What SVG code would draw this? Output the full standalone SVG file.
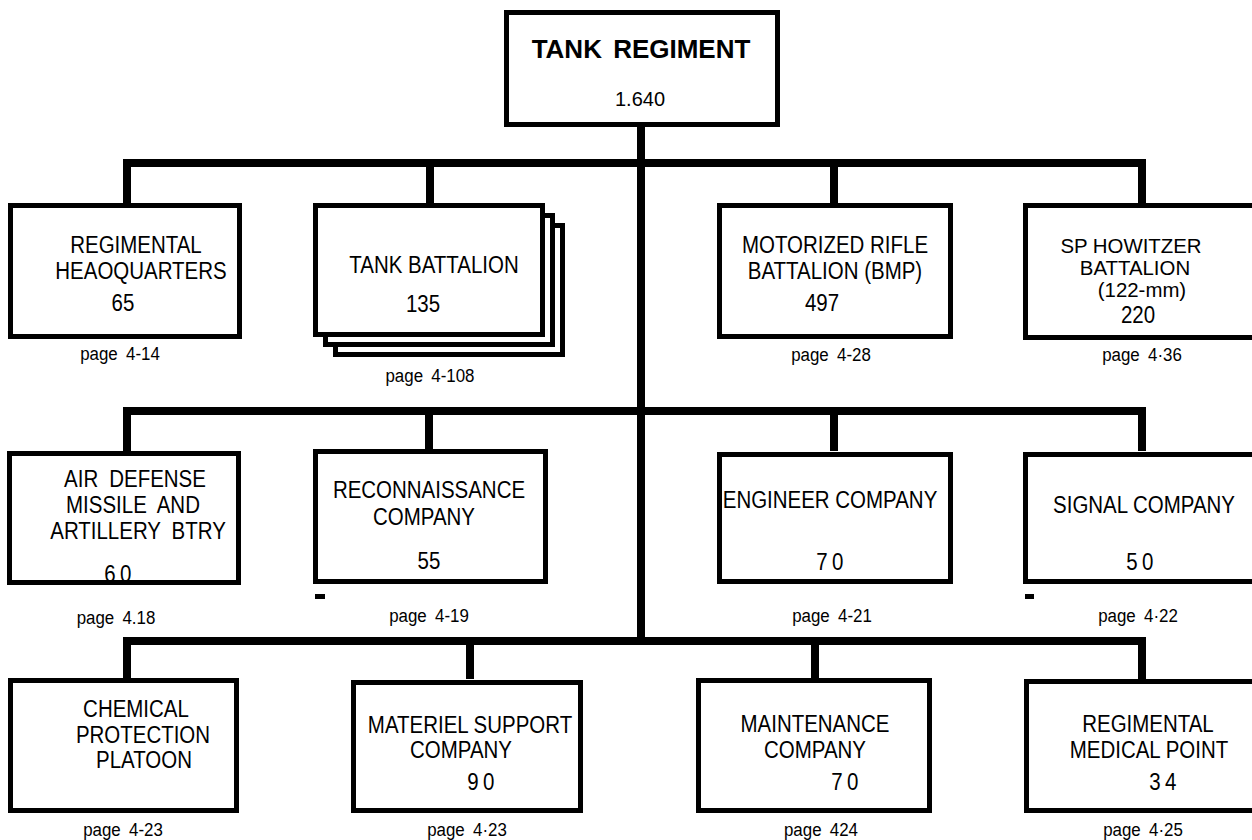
<svg xmlns="http://www.w3.org/2000/svg" width="1252" height="840" viewBox="0 0 1252 840">
<style>
.box{fill:#fff;stroke:#000;stroke-width:5}
.ln{fill:none;stroke:#000;stroke-width:8;stroke-linejoin:miter;stroke-linecap:butt}
text{font-family:"Liberation Sans",Arial,Helvetica,sans-serif;fill:#000;text-anchor:middle}
.t{font-size:23px;transform-box:fill-box;transform-origin:center;transform:scaleX(.89)}
.s{font-size:20px;transform-box:fill-box;transform-origin:center;transform:scaleX(1.02)}
.p{font-size:19px;word-spacing:4px;transform-box:fill-box;transform-origin:center;transform:scaleX(.89)}
.w{word-spacing:6px}
.sp{letter-spacing:5px}
.title{font-size:26px;font-weight:bold;word-spacing:4px}
.num{font-size:20px}
</style>
<rect width="1252" height="840" fill="#fff"/>
<g id="connectors">
<path class="ln" d="M641 125V645"/>
<path class="ln" d="M127 203V163H1142V203M430 163V203M834 163V203"/>
<path class="ln" d="M127 451V411H1142V451M429 411V451M834 411V451"/>
<path class="ln" d="M127 679V641H1142V679M470 641V679M815 641V679"/>
</g>
<g id="tank-regiment">
<rect class="box" x="506.5" y="12.5" width="271" height="112"/>
<text class="title" x="641" y="58">TANK REGIMENT</text>
<text class="num" x="640" y="106">1.640</text>
</g>
<g id="regimental-hq">
<rect class="box" x="10.5" y="205.5" width="229" height="131"/>
<text class="t" x="136" y="253">REGIMENTAL</text>
<text class="t" x="141" y="279">HEAOQUARTERS</text>
<text class="t" x="123" y="311">65</text>
<text class="p" x="120" y="360">page 4-14</text>
</g>
<g id="tank-battalion">
<rect class="box" x="335.5" y="225.5" width="227" height="129"/>
<rect class="box" x="325.5" y="215.5" width="227" height="129"/>
<rect class="box" x="315.5" y="205.5" width="227" height="129"/>
<text class="t" x="434" y="273">TANK BATTALION</text>
<text class="t" x="423" y="312">135</text>
<text class="p" x="430" y="382">page 4-108</text>
</g>
<g id="motorized-rifle-battalion">
<rect class="box" x="719.5" y="205.5" width="231" height="131"/>
<text class="t" x="835" y="253">MOTORIZED RIFLE</text>
<text class="t" x="835" y="279">BATTALION (BMP)</text>
<text class="t" x="822" y="311">497</text>
<text class="p" x="831" y="361">page 4-28</text>
</g>
<g id="sp-howitzer-battalion">
<rect class="box" x="1025.5" y="205.5" width="240" height="132"/>
<text class="s" x="1131" y="253">SP HOWITZER</text>
<text class="s" x="1135" y="275">BATTALION</text>
<text class="s" x="1142" y="297">(122-mm)</text>
<text class="t" x="1138" y="323">220</text>
<text class="p" x="1142" y="361">page 4·36</text>
</g>
<g id="air-defense">
<rect class="box" x="9.5" y="453.5" width="229" height="129"/>
<text class="t w" x="135" y="487">AIR DEFENSE</text>
<text class="t w" x="133" y="513">MISSILE AND</text>
<text class="t w" x="138" y="539">ARTILLERY BTRY</text>
<text class="t sp" x="120" y="582">60</text>
<text class="p" x="116" y="624">page 4.18</text>
</g>
<g id="reconnaissance-company">
<rect class="box" x="315.5" y="451.5" width="230" height="130"/>
<rect x="315" y="594" width="10" height="5" fill="#000"/>
<text class="t" x="429" y="498">RECONNAISSANCE</text>
<text class="t" x="424" y="525">COMPANY</text>
<text class="t" x="429" y="569">55</text>
<text class="p" x="429" y="622">page 4-19</text>
</g>
<g id="engineer-company">
<rect class="box" x="719.5" y="454.5" width="231" height="127"/>
<text class="t" x="830" y="508">ENGINEER COMPANY</text>
<text class="t sp" x="832" y="570">70</text>
<text class="p" x="832" y="622">page 4-21</text>
</g>
<g id="signal-company">
<rect class="box" x="1025.5" y="454.5" width="240" height="127"/>
<rect x="1025" y="594" width="9" height="5" fill="#000"/>
<text class="t" x="1144" y="513">SIGNAL COMPANY</text>
<text class="t sp" x="1142" y="570">50</text>
<text class="p" x="1138" y="622">page 4·22</text>
</g>
<g id="chemical-protection-platoon">
<rect class="box" x="10.5" y="680.5" width="226" height="130"/>
<text class="t" x="136" y="717">CHEMICAL</text>
<text class="t" x="143" y="743">PROTECTION</text>
<text class="t" x="144" y="768">PLATOON</text>
<text class="p" x="123" y="836">page 4-23</text>
</g>
<g id="materiel-support-company">
<rect class="box" x="353.5" y="682.5" width="227" height="128"/>
<text class="t" x="470" y="733">MATERIEL SUPPORT</text>
<text class="t" x="461" y="758">COMPANY</text>
<text class="t sp" x="483" y="790">90</text>
<text class="p" x="467" y="836">page 4·23</text>
</g>
<g id="maintenance-company">
<rect class="box" x="698.5" y="680.5" width="231" height="130"/>
<text class="t" x="815" y="732">MAINTENANCE</text>
<text class="t" x="815" y="758">COMPANY</text>
<text class="t sp" x="847" y="790">70</text>
<text class="p" x="821" y="836">page 424</text>
</g>
<g id="regimental-medical-point">
<rect class="box" x="1026.5" y="681.5" width="240" height="129"/>
<text class="t" x="1148" y="732">REGIMENTAL</text>
<text class="t" x="1149" y="758">MEDICAL POINT</text>
<text class="t sp" x="1165" y="790">34</text>
<text class="p" x="1143" y="836">page 4·25</text>
</g>
</svg>
